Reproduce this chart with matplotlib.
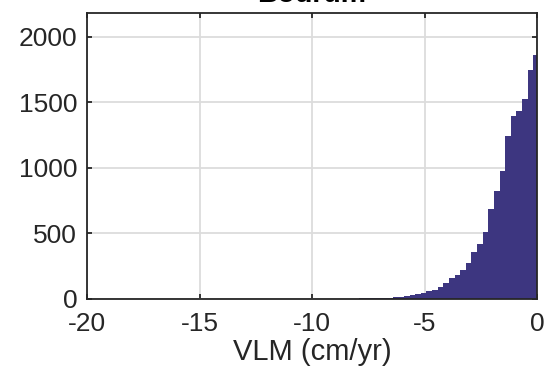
import numpy as np
import matplotlib
matplotlib.use('Agg')
import matplotlib.pyplot as plt

plt.rcParams['font.family'] = ['Liberation Sans', 'DejaVu Sans']
plt.rcParams['axes.unicode_minus'] = False

# histogram of VLM, counts (left bin first)
bin_width = 0.25
last_edge = 0.085
counts = [1, 1, 1, 1, 2, 2, 2, 3, 3, 4, 5, 5, 6, 8, 10, 12,
          15, 21, 33, 41, 49, 59, 72, 92, 125, 160, 186, 218,
          273, 360, 419, 510, 684, 825, 978, 1242, 1395, 1435,
          1527, 1745, 1865]
xticks = [-20, -15, -10, -5, 0]
yticks = [0, 500, 1000, 1500, 2000]

n = len(counts)
left_edges = last_edge - bin_width * np.arange(n, 0, -1)

fig = plt.figure(figsize=(5.46, 3.66), dpi=100)
ax = fig.add_axes([87 / 546, 67 / 366, 450 / 546, 286 / 366])

ax.bar(left_edges, counts, width=bin_width, align='edge',
       color='#3d3680', edgecolor='none', zorder=2)

ax.set_xlim(-20, 0)
ax.set_ylim(0, 2182)
ax.set_xticks(xticks)
ax.set_yticks(yticks)
ax.grid(True, color='#dcdcdc', linewidth=1.3, zorder=0)
ax.set_axisbelow(True)

for side in ['left', 'right', 'top', 'bottom']:
    ax.spines[side].set_linewidth(1.3)
    ax.spines[side].set_color('#262626')
    ax.spines[side].set_zorder(3)

ax.tick_params(direction='in', length=3.5, width=1.3, color='#262626',
               labelsize=19, labelcolor='#262626', top=True, right=True)
ax.tick_params(axis='y', pad=7)
ax.tick_params(axis='x', pad=9.5)

ax.set_xlabel('VLM (cm/yr)', fontsize=21, color='#262626', labelpad=1)
ax.set_title('Bodrum', fontsize=20.5, fontweight='bold', color='#000000', pad=7.8)

fig.savefig('out.png', dpi=100)
